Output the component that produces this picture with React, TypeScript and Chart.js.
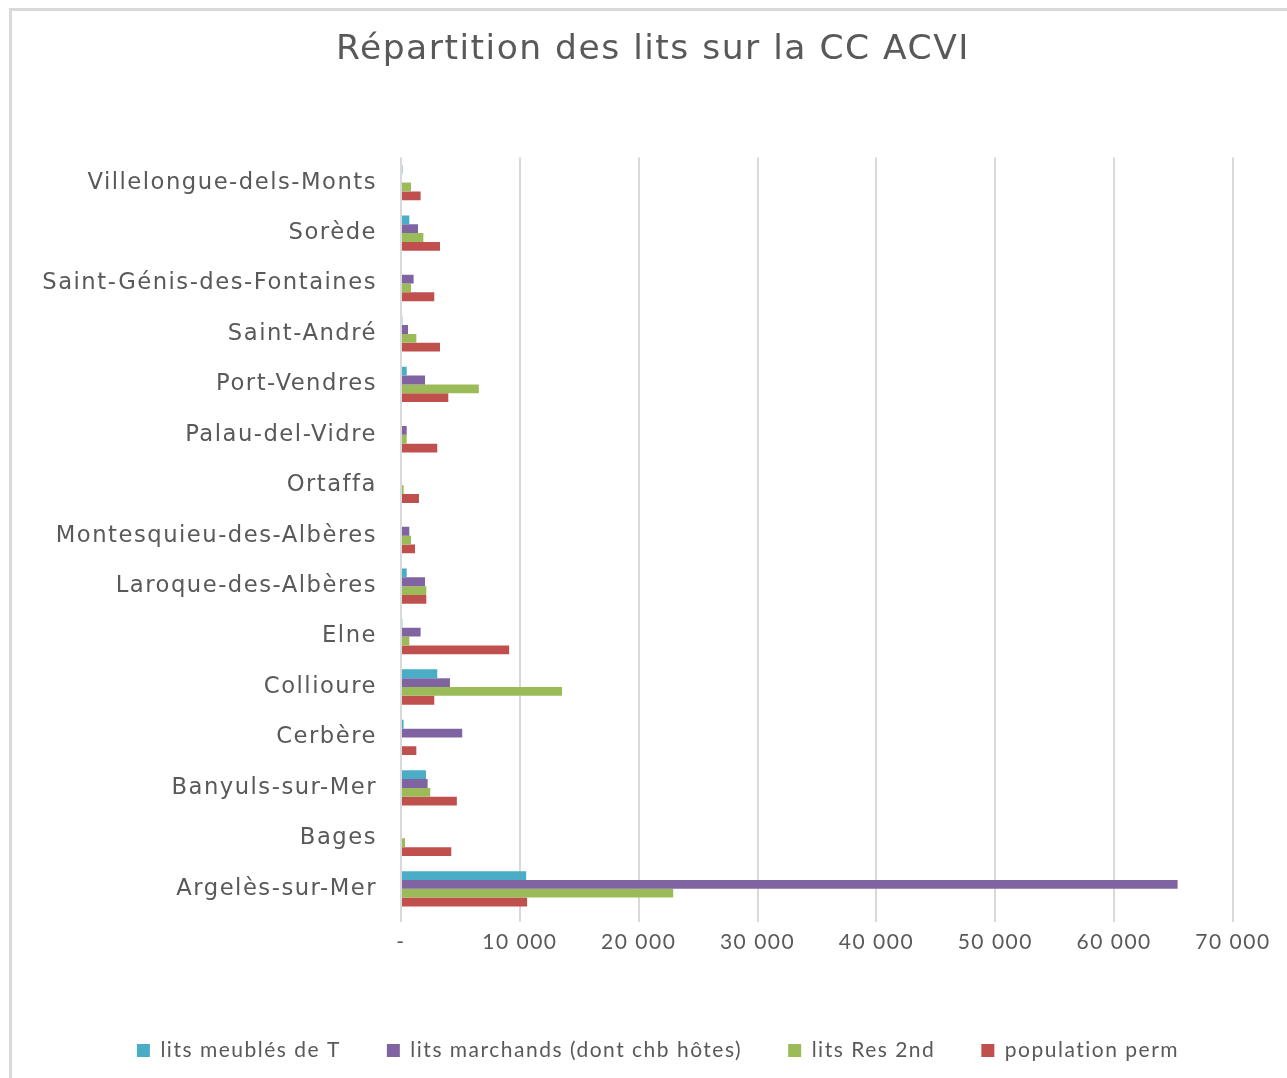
import React, { useEffect, useRef } from "react";
import { Chart, registerables } from "chart.js";

Chart.register(...registerables);

const communes = [
  "Villelongue-dels-Monts",
  "Sorède",
  "Saint-Génis-des-Fontaines",
  "Saint-André",
  "Port-Vendres",
  "Palau-del-Vidre",
  "Ortaffa",
  "Montesquieu-des-Albères",
  "Laroque-des-Albères",
  "Elne",
  "Collioure",
  "Cerbère",
  "Banyuls-sur-Mer",
  "Bages",
  "Argelès-sur-Mer",
];

const litsMeubles = [120, 700, 0, 112, 480, 0, 0, 0, 480, 112, 3050, 220, 2100, 0, 10530];
const litsMarchands = [0, 1430, 1060, 590, 2020, 480, 0, 700, 2020, 1650, 4120, 5150, 2240, 0, 65340];
const litsRes2nd = [840, 1880, 840, 1290, 6550, 480, 220, 840, 2130, 700, 13550, 0, 2460, 340, 22900];
const populationPerm = [1650, 3280, 2800, 3280, 3980, 3050, 1510, 1180, 2130, 9100, 2800, 1290, 4700, 4230, 10610];

const seriesNames = [
  "lits meublés de T",
  "lits marchands (dont chb hôtes)",
  "lits Res 2nd",
  "population perm",
];
const seriesColors = ["#4BACC6", "#8064A2", "#9BBB59", "#C0504D"];

const xMax = 70000;
const xStep = 10000;

function fmt(v: number): string {
  if (v === 0) return "-";
  return String(v).replace(/\B(?=(\d{3})+(?!\d))/g, " ");
}

const spacingPlugin = {
  id: "letterSpacing",
  beforeLayout(chart: any) {
    chart.ctx.letterSpacing = "1.5px";
  },
  beforeDraw(chart: any) {
    chart.ctx.letterSpacing = "1.5px";
    // centre title and legend on the whole chart frame, as in the original
    if (chart.titleBlock) {
      chart.titleBlock.left = 0;
      chart.titleBlock.right = chart.width;
    }
    if (chart.legend) {
      chart.legend.left = 69;
      chart.legend.right = chart.width - 59;
    }
  },
};

export default function App() {
  const ref = useRef<HTMLCanvasElement | null>(null);
  useEffect(() => {
    if (!ref.current) return;
    const values = [litsMeubles, litsMarchands, litsRes2nd, populationPerm];
    const chart = new Chart(ref.current, {
      type: "bar",
      data: {
        labels: communes,
        datasets: values.map((v, i) => ({
          label: seriesNames[i],
          data: v,
          backgroundColor: seriesColors[i],
          borderWidth: 0,
          categoryPercentage: 0.7,
          barPercentage: 1,
        })),
      },
      plugins: [spacingPlugin],
      options: {
        indexAxis: "y",
        animation: false,
        responsive: true,
        maintainAspectRatio: false,
        layout: { padding: { left: 0, right: 64, top: 0, bottom: 0 } },
        plugins: {
          title: {
            display: true,
            text: "Répartition des lits sur la CC ACVI",
            color: "#595959",
            font: { family: "'DejaVu Sans'", size: 34.5, weight: "normal" },
            padding: { top: 21, bottom: 87 },
          },
          legend: {
            position: "bottom",
            labels: {
              color: "#595959",
              font: { family: "Lato", size: 21 },
              boxWidth: 13,
              boxHeight: 13,
              padding: 46,
            },
          },
          tooltip: { enabled: false },
        },
        scales: {
          x: {
            min: 0,
            max: xMax,
            ticks: {
              stepSize: xStep,
              color: "#595959",
              font: { family: "Lato", size: 21 },
              padding: 8,
              callback: (v: any) => fmt(Number(v)),
            },
            grid: { color: "#d9d9d9", lineWidth: 2, tickLength: 8 },
            border: { display: false },
            afterFit: (s: any) => {
              s.height = 80;
            },
          },
          y: {
            ticks: {
              color: "#595959",
              font: { family: "'DejaVu Sans'", size: 22.7 },
              padding: 16,
            },
            grid: { display: false },
            border: { display: false },
            afterFit: (s: any) => {
              s.width = 392;
            },
          },
        },
      },
    });
    return () => chart.destroy();
  }, []);

  return (
    <div
      style={{
        position: "absolute",
        left: 0,
        top: 0,
        width: 1287,
        height: 1078,
        overflow: "hidden",
        background: "#fff",
      }}
    >
      <div
        style={{
          position: "absolute",
          left: 9,
          top: 8,
          width: 1278,
          height: 1070,
          borderLeft: "3px solid #d9d9d9",
          borderTop: "3px solid #d9d9d9",
          boxSizing: "border-box",
        }}
      />
      <div style={{ position: "absolute", left: 9, top: 8, width: 1288, height: 1063 }}>
        <canvas ref={ref} />
      </div>
    </div>
  );
}
